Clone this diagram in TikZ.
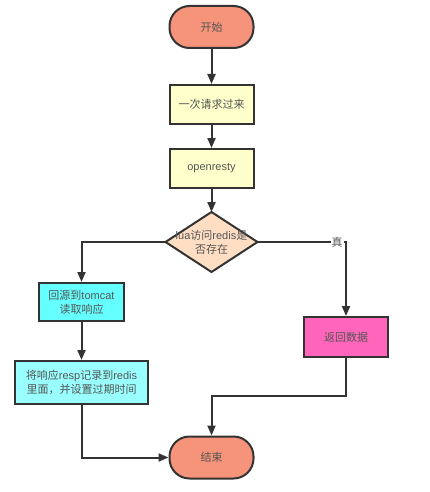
\documentclass[tikz,border=0pt]{standalone}
\usepackage{fontspec}
\setmainfont{Liberation Sans}
\newfontfamily\cjk{Noto Sans CJK SC}
\usetikzlibrary{arrows.meta}
\definecolor{termfill}{RGB}{245,148,122}
\definecolor{yelfill}{RGB}{255,255,204}
\definecolor{diafill}{RGB}{255,222,196}
\definecolor{cyanA}{RGB}{102,255,255}
\definecolor{cyanB}{RGB}{153,255,255}
\definecolor{pinkfill}{RGB}{255,102,187}
\definecolor{edgecol}{RGB}{51,51,51}
\definecolor{txtcol}{RGB}{85,85,85}
\tikzset{
  txt/.style={text=txtcol, font=\fontsize{11}{14}\selectfont, align=center, inner sep=0pt},
  base/.style={txt, draw=edgecol, line width=2pt},
  term/.style={base, fill=termfill, rounded corners=20pt, minimum width=84pt, minimum height=42pt},
  proc/.style={base, minimum width=84pt, minimum height=39pt},
  conn/.style={draw=edgecol, line width=2pt, -{Triangle[length=10pt,width=8pt]}},
}
\begin{document}
\begin{tikzpicture}[x=1pt,y=-1pt]
\useasboundingbox (0,0) rectangle (430,492);
\node[term] (start) at (211.5,27) {\cjk 开始};
\node[proc, fill=yelfill] (req) at (211.5,104.5) {\cjk 一次请求过来};
\node[proc, fill=yelfill] (or) at (211.5,168.5) {openresty};
\path[base, fill=diafill] (211.5,212) -- (257.5,242) -- (211.5,272) -- (165.5,242) -- cycle;
\node[txt] (dia) at (211.5,242) {lua{\cjk 访问}redis{\cjk 是}\\{\cjk 否存在}};
\coordinate (diaT) at (211.5,212);
\coordinate (diaL) at (165.5,242);
\coordinate (diaR) at (257.5,242);
\node[proc, fill=cyanA, minimum width=85pt, minimum height=38pt] (tom) at (81.5,302) {{\cjk 回源到}tomcat\\{\cjk 读取响应}};
\node[proc, fill=pinkfill, minimum width=84pt, minimum height=40pt] (ret) at (346,337) {\cjk 返回数据};
\node[proc, fill=cyanB, minimum width=133pt, minimum height=43pt] (rec) at (81.5,382.5) {{\cjk 将响应}resp{\cjk 记录到}redis\\{\cjk 里面，并设置过期时间}};
\node[term] (end) at (211.5,457.5) {\cjk 结束};
\draw[conn] (start) -- (req);
\draw[conn] (req) -- (or);
\draw[conn] (or) -- (diaT);
\draw[conn] (diaL) -| (tom);
\draw[conn] (diaR) -| node[txt, pos=0.45, fill=white, inner sep=1pt] {\cjk 真} (ret);
\draw[conn] (tom) -- (rec);
\draw[conn] (rec.south) |- (end.west);
\coordinate (bend) at (346,396);
\draw[conn] (ret.south) -- (bend) -| (end.north);
\end{tikzpicture}
\end{document}
